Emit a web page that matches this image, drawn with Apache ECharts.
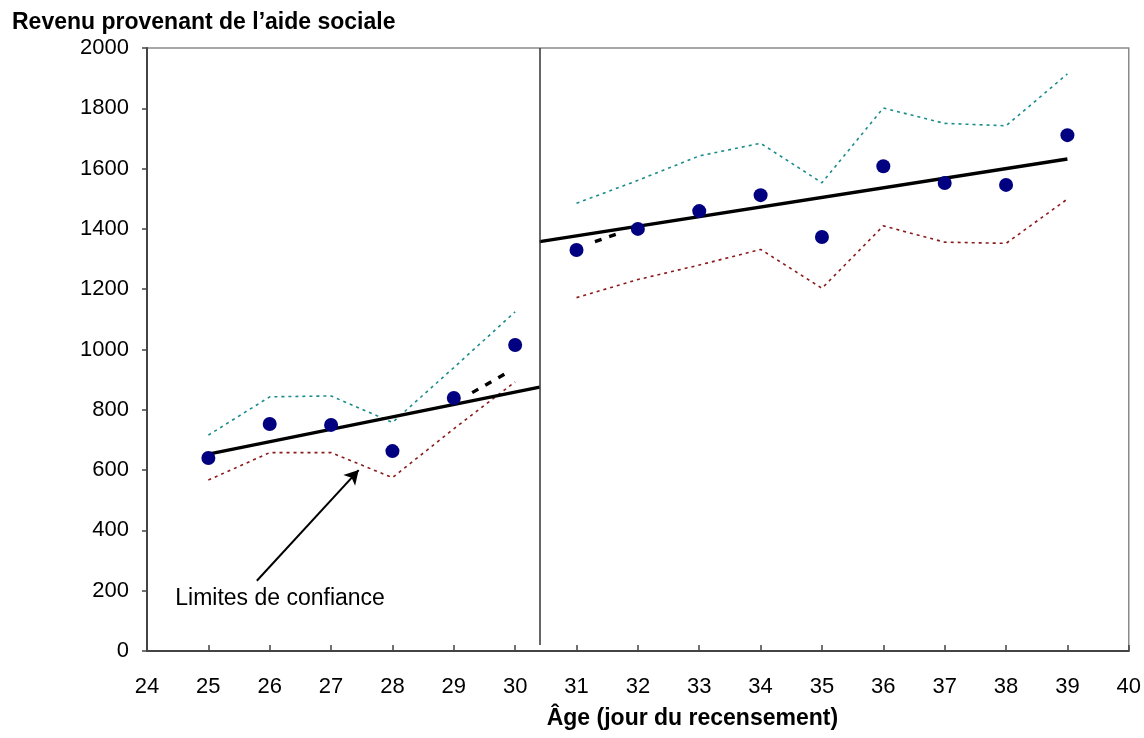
<!DOCTYPE html>
<html>
<head>
<meta charset="utf-8">
<script src="https://cdn.jsdelivr.net/npm/echarts@6/dist/echarts.min.js"></script>
<style>
  html, body { margin: 0; padding: 0; background: #fff; }
  #chart { width: 1144px; height: 738px; }
</style>
</head>
<body>
<div id="chart"></div>
<script>
// Age on census day and mean social-assistance income
const ages = [25, 26, 27, 28, 29, 30, 31, 32, 33, 34, 35, 36, 37, 38, 39];
const revenue = [640, 753, 750, 663, 839, 1015, 1330, 1400, 1459, 1512, 1373, 1608, 1552, 1546, 1711];
// Confidence limits around each point
const upperLimit = [716, 843, 846, 758, 940, 1125, 1485, 1561, 1642, 1684, 1553, 1801, 1750, 1742, 1914];
const lowerLimit = [567, 658, 658, 575, 737, 893, 1172, 1232, 1280, 1332, 1203, 1410, 1356, 1352, 1499];
// Eligibility cutoff and fitted regression segments
const cutoff = 30.4;
const fitLeft = [[25, 653], [30.4, 875]];
const fitRight = [[30.4, 1358], [39, 1632]];
const curveLeft = [[29.3, 857], [29.92, 929]];
const curveRight = [[31.3, 1358], [31.69, 1385]];
// Annotation: arrow and its label
const arrowFrom = [25.79, 233];
const arrowTo = [27.45, 600];
const noteAt = [24.46, 172];
const noteText = 'Limites de confiance';
const xTicks = { min: 24, max: 40, step: 1 };
const yTicks = { min: 0, max: 2000, step: 200 };

const FONT = '"Liberation Sans", Arial, sans-serif';

const pairs = (xs, ys) => xs.map((x, i) => [x, ys[i]]);
const leftPart = arr => arr.filter(p => p[0] < cutoff);
const rightPart = arr => arr.filter(p => p[0] > cutoff);

const upper = pairs(ages, upperLimit);
const lower = pairs(ages, lowerLimit);

const dotted = color => ({ color: color, width: 1.6, type: [3, 4] });

function limitSeries(data, color) {
  return {
    type: 'line', data: data, symbol: 'none', silent: true,
    lineStyle: dotted(color), z: 2
  };
}

const chart = echarts.init(document.getElementById('chart'), null, { renderer: 'canvas' });

chart.setOption({
  animation: false,
  backgroundColor: '#ffffff',
  textStyle: { fontFamily: FONT },
  title: {
    text: 'Revenu provenant de l\u2019aide sociale',
    left: 7, top: 6,
    textStyle: { fontFamily: FONT, fontSize: 23, fontWeight: 'bold', color: '#000' }
  },
  grid: {
    left: 147, right: 15, top: 48, bottom: 87,
    show: true, borderColor: '#8a8a8a', borderWidth: 1.5, backgroundColor: 'transparent'
  },
  xAxis: {
    type: 'value', min: xTicks.min, max: xTicks.max, interval: xTicks.step,
    name: '\u00c2ge (jour du recensement)',
    nameLocation: 'middle', nameGap: 56,
    nameTextStyle: { fontFamily: FONT, fontSize: 23, fontWeight: 'bold', color: '#000', padding: [0, 0, 0, 109] },
    axisLine: { show: true, lineStyle: { color: '#444', width: 2 } },
    axisTick: { show: true, inside: true, length: 6, lineStyle: { color: '#444', width: 1.5 } },
    axisLabel: { fontFamily: FONT, fontSize: 22, color: '#000', margin: 25 },
    splitLine: { show: false }
  },
  yAxis: {
    type: 'value', min: yTicks.min, max: yTicks.max, interval: yTicks.step,
    axisLine: { show: true, lineStyle: { color: '#444', width: 2 } },
    axisTick: { show: true, inside: false, length: 5, lineStyle: { color: '#444', width: 1.5 } },
    axisLabel: { fontFamily: FONT, fontSize: 22, color: '#000', margin: 18, formatter: v => String(v) },
    splitLine: { show: false }
  },
  series: [
    limitSeries(leftPart(upper), '#1a8c8c'),
    limitSeries(rightPart(upper), '#1a8c8c'),
    limitSeries(leftPart(lower), '#8b1a1a'),
    limitSeries(rightPart(lower), '#8b1a1a'),
    {
      type: 'line', data: fitLeft, symbol: 'none', silent: true, z: 3,
      lineStyle: { color: '#000', width: 3.4 },
      markLine: {
        silent: true, symbol: ['none', 'none'], label: { show: false },
        lineStyle: { color: '#333', width: 1.5, type: 'solid' },
        data: [[{ coord: [cutoff, yTicks.max] }, { coord: [cutoff, 20] }]]
      }
    },
    {
      type: 'line', data: fitRight, symbol: 'none', silent: true, z: 3,
      lineStyle: { color: '#000', width: 3.4 }
    },
    {
      type: 'line', data: curveLeft, symbol: 'none', silent: true, z: 3,
      lineStyle: { color: '#000', width: 3.4, type: [7, 8] }
    },
    {
      type: 'line', data: curveRight, symbol: 'none', silent: true, z: 3,
      lineStyle: { color: '#000', width: 3.4, type: [7, 8] }
    },
    {
      type: 'scatter', data: pairs(ages, revenue), symbol: 'circle', symbolSize: 14,
      itemStyle: { color: '#000080', opacity: 1 }, z: 5
    },
    {
      type: 'scatter', data: [noteAt], symbolSize: 0, silent: true, z: 6,
      itemStyle: { opacity: 1 },
      label: {
        show: true, position: 'right', distance: 0, formatter: noteText,
        fontFamily: FONT, fontSize: 23, color: '#000', opacity: 1
      },
      markLine: {
        silent: true, symbol: ['none', 'arrow'], symbolSize: [12, 14],
        label: { show: false },
        lineStyle: { color: '#000', width: 2, type: 'solid' },
        data: [[{ coord: arrowFrom }, { coord: arrowTo }]]
      }
    }
  ]
});
</script>
</body>
</html>
